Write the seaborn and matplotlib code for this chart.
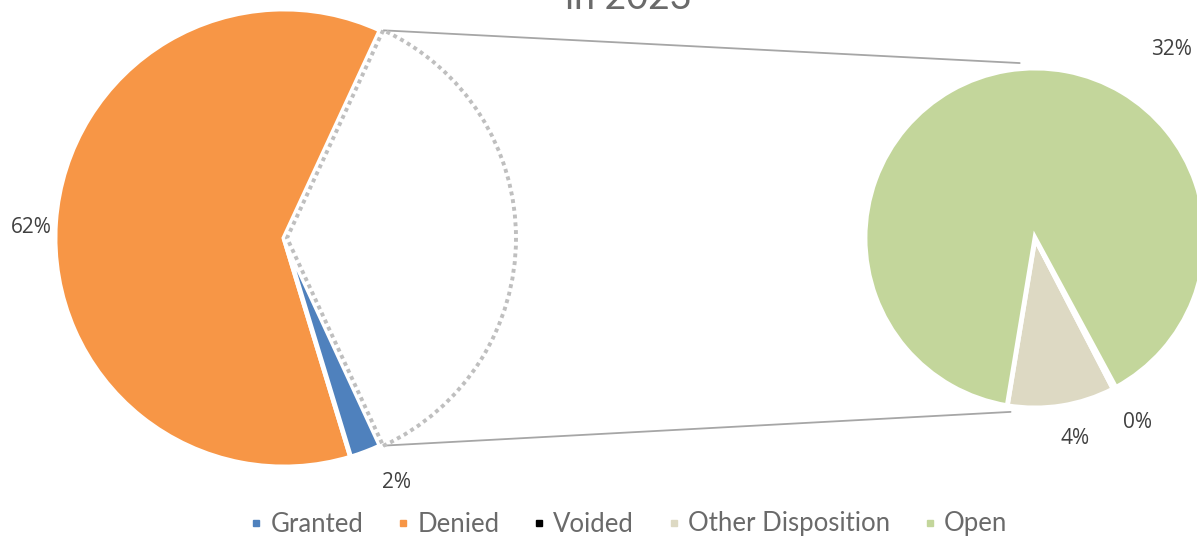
import numpy as np
import matplotlib
matplotlib.use("Agg")
import matplotlib.pyplot as plt
from matplotlib.lines import Line2D
import seaborn as sns

# --- data (share of all cases, %) ---
categories = ["Granted", "Denied", "Voided", "Other Disposition", "Open"]
shares = [2.2, 61.6, 0.1, 3.7, 32.4]
colors = ["#4f81bd", "#f79646", "#000000", "#ddd9c3", "#c3d69b"]

main_cats = ["Denied", "Granted"]
split_cats = ["Other Disposition", "Voided", "Open"]

title_text = "in 2023"

# --- style ---
sns.set_theme(style="white")
plt.rcParams["font.family"] = ["Open Sans", "DejaVu Sans"]

W, H = 1197, 539
fig = plt.figure(figsize=(W / 100, H / 100), dpi=100)
ax = fig.add_axes([0, 0, 1, 1])

share = dict(zip(categories, shares))
color = dict(zip(categories, colors))

# left pie: Denied, Granted, and the "other" bucket centred on the right side
left_c, left_r = (284, 301), 229
other_total = sum(share[c] for c in split_cats)
left_vals = [share[c] for c in main_cats] + [other_total]
total = sum(left_vals)
start = -(sum(left_vals[:2]) / total * 360) - other_total / total * 180
lw_px = 3.5
wedges, _ = ax.pie(left_vals, colors=[color[c] for c in main_cats] + ["white"],
                   startangle=start, center=left_c, radius=left_r, frame=True,
                   wedgeprops=dict(edgecolor="white", linewidth=lw_px))
ow = wedges[2]
ow.set_facecolor("none")
ow.set_edgecolor("#bfbfbf")
ow.set_linestyle((0, (1, 1)))
ow.set_linewidth(2.8)
ow.set_center((left_c[0] + 3, left_c[1]))
ow.set_zorder(3)

# right pie: breakdown of the bucket
right_c, right_r = (1035, 301), 170
right_vals = [share[c] for c in split_cats]
rwedges, _ = ax.pie(right_vals, colors=[color[c] for c in split_cats],
                    startangle=260.6, center=right_c, radius=right_r, frame=True,
                    wedgeprops=dict(edgecolor="white", linewidth=lw_px))
ax.set_xlim(0, W)
ax.set_ylim(0, H)
ax.set_aspect("equal")
ax.axis("off")

# connector lines
def pt(c, r, ang):
    a = np.deg2rad(ang)
    return c[0] + r * np.cos(a), c[1] + r * np.sin(a)

for la, ra in [(ow.theta2, 95), (ow.theta1, 262)]:
    x0, y0 = pt(left_c, left_r, la)
    x1, y1 = pt(right_c, right_r * 1.033, ra)
    ax.plot([x0, x1], [y0, y1], color="#a6a6a6", lw=1.3, zorder=0.2)

# percent labels: (angle, distance in radii)
lbl_kw = dict(fontsize=15, color="#404040", ha="center", va="center")
label_place = {"Denied": (177.7, 1.105), "Granted": (294.6, 1.175),
               "Other Disposition": (281.3, 1.2), "Voided": (299.1, 1.245),
               "Open": (54, 1.37)}
for c in main_cats:
    x, y = pt(left_c, left_r * label_place[c][1], label_place[c][0])
    ax.text(x, y, f"{share[c]:.0f}%", **lbl_kw)
for c in split_cats:
    x, y = pt(right_c, right_r * label_place[c][1], label_place[c][0])
    ax.text(x, y, f"{share[c]:.0f}%", **lbl_kw)

# title (mostly cropped by the top edge)
fig.text(628 / W, 1 - 9 / H, title_text, ha="center", va="baseline",
         fontsize=27, color="#6a6a6a", family=["Lato", "DejaVu Sans"])

# legend
handles = [Line2D([], [], marker="s", linestyle="none", markersize=5,
                  markerfacecolor=color[c], markeredgecolor=color[c]) for c in categories]
leg = ax.legend(handles, categories, loc="center", bbox_to_anchor=(630 / W, 15 / H),
                ncol=5, frameon=False, handlelength=0.3, handletextpad=0.4,
                columnspacing=1.4, borderaxespad=0,
                prop=dict(family=["Lato", "DejaVu Sans"], size=18.5))
for t in leg.get_texts():
    t.set_color("#6a6a6a")

fig.savefig("out.png", dpi=100)
